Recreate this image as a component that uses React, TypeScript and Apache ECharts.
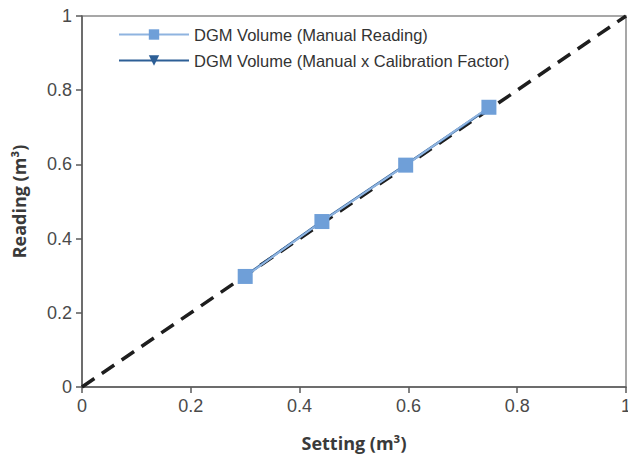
import React, { useEffect, useRef } from "react";
import * as echarts from "echarts";

const settingValues = [0.3, 0.441, 0.595, 0.748];
const manualReading = [0.298, 0.446, 0.598, 0.754];
const calibratedReading = [0.299, 0.447, 0.599, 0.752];
const identityLine = [
  [0, 0],
  [1, 1],
];
const seriesNames = [
  "DGM Volume (Manual Reading)",
  "DGM Volume (Manual x Calibration Factor)",
];

export default function App() {
  const ref = useRef<HTMLDivElement>(null);
  useEffect(() => {
    document.body.style.margin = "0";
    const chart = echarts.init(ref.current!, null, { renderer: "svg" });
    const tickFont = {
      fontFamily: "Liberation Sans, Arial, sans-serif",
      fontSize: 18,
      color: "#4a4a4a",
    };
    chart.setOption({
      animation: false,
      backgroundColor: "#ffffff",
      grid: {
        left: 82,
        right: 2,
        top: 16,
        bottom: 71,
        outerBoundsMode: "none",
        containLabel: false,
        show: true,
        borderColor: "#8a8a8a",
        borderWidth: 1.5,
        backgroundColor: "transparent",
      },
      legend: {
        orient: "vertical",
        left: 113,
        top: 21,
        itemWidth: 70,
        itemHeight: 13,
        itemGap: 9,
        data: seriesNames,
        textStyle: {
          fontFamily: "Liberation Sans, Arial, sans-serif",
          fontSize: 16.5,
          color: "#333333",
        },
      },
      xAxis: {
        type: "value",
        min: 0,
        max: 1,
        interval: 0.2,
        name: "Setting (m³)",
        nameLocation: "middle",
        nameGap: 47,
        nameTextStyle: {
          fontFamily: "Open Sans, sans-serif",
          fontWeight: "bold",
          fontSize: 18,
          color: "#3a3a3a",
        },
        splitLine: { show: false },
        axisLine: { lineStyle: { color: "#5a5a5a", width: 1.5 } },
        axisTick: { show: true, length: 6, lineStyle: { color: "#5a5a5a", width: 1.5 } },
        axisLabel: { ...tickFont, margin: 10 },
      },
      yAxis: {
        type: "value",
        min: 0,
        max: 1,
        interval: 0.2,
        name: "Reading (m³)",
        nameLocation: "middle",
        nameGap: 54,
        nameTextStyle: {
          fontFamily: "Open Sans, sans-serif",
          fontWeight: "bold",
          fontSize: 18,
          color: "#3a3a3a",
        },
        splitLine: { show: false },
        axisLine: { show: true, lineStyle: { color: "#5a5a5a", width: 1.5 } },
        axisTick: { show: true, length: 6, lineStyle: { color: "#5a5a5a", width: 1.5 } },
        axisLabel: { ...tickFont, margin: 10 },
      },
      series: [
        {
          name: "identity",
          type: "line",
          data: identityLine,
          symbol: "none",
          lineStyle: { color: "#1e1e1e", width: 3.5, type: [15, 9] },
          z: 1,
        },
        {
          name: seriesNames[1],
          type: "line",
          data: settingValues.map((x, i) => [x, calibratedReading[i]]),
          symbol: "triangle",
          symbolRotate: 180,
          symbolSize: 12,
          itemStyle: { color: "#2d5f96" },
          lineStyle: { color: "#2d5f96", width: 2.5 },
          z: 2,
        },
        {
          name: seriesNames[0],
          type: "line",
          data: settingValues.map((x, i) => [x, manualReading[i]]),
          symbol: "rect",
          symbolSize: 15,
          itemStyle: { color: "#6f9fd8" },
          lineStyle: { color: "#8fb4e0", width: 2 },
          z: 3,
        },
      ],
    });
    return () => chart.dispose();
  }, []);
  return (
    <div
      ref={ref}
      style={{ position: "absolute", left: 0, top: 0, width: 628, height: 458 }}
    />
  );
}
